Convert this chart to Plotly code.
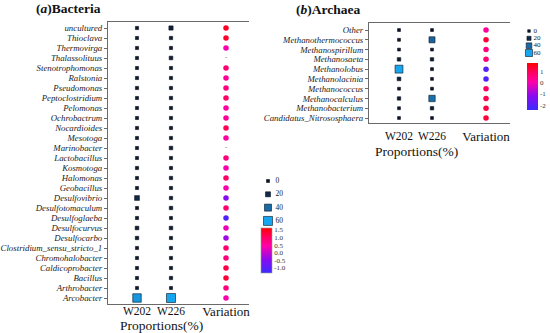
import plotly.graph_objects as go

W, H = 550, 333

# ---------------- data ----------------
bact_genera = ["uncultured", "Thioclava", "Thermovirga", "Thalassolituus", "Stenotrophomonas",
               "Ralstonia", "Pseudomonas", "Peptoclostridium", "Pelomonas", "Ochrobactrum",
               "Nocardioides", "Mesotoga", "Marinobacter", "Lactobacillus", "Kosmotoga",
               "Halomonas", "Geobacillus", "Desulfovibrio", "Desulfotomaculum", "Desulfoglaeba",
               "Desulfocurvus", "Desulfocarbo", "Clostridium_sensu_stricto_1", "Chromohalobacter",
               "Caldicoprobacter", "Bacillus", "Arthrobacter", "Arcobacter"]
bact_w202 = [1.5, 1.2, 1.0, 1.0, 0.8, 1.5, 1.5, 1.2, 1.2, 1.0, 1.0, 1.2, 1.0, 1.0, 1.8,
             1.0, 1.0, 18, 1.0, 1.5, 6, 4, 1.0, 1.0, 1.0, 1.2, 0.8, 55]
bact_w226 = [12, 3, 2, 6, 1.5, 2, 2, 2.5, 1.5, 1.5, 1.5, 1.5, 5, 1.5, 1.5,
             3, 2, 3, 4, 1.2, 5, 2, 2, 1.5, 1.5, 2.5, 1.2, 60]
bact_var = [1.4, 1.35, 0.4, None, 0.9, 0.6, 0.8, 1.0, 0.5, 0.6, 1.1, 0.5, None, 0.8, 0.4,
            1.0, 0.4, -0.5, 0.9, -1.1, 0.3, -0.3, 0.9, 0.8, 1.2, 1.3, 0.8, 0.4]

arch_genera = ["Other", "Methanothermococcus", "Methanospirillum", "Methanosaeta", "Methanolobus",
               "Methanolacinia", "Methanococcus", "Methanocalculus", "Methanobacterium",
               "Candidatus_Nitrososphaera"]
arch_w202 = [1.5, 1.5, 1.0, 8, 60, 10, 1.0, 7, 1.5, 1.0]
arch_w226 = [1.5, 38, 1.0, 7, 2, 1.0, 1.5, 42, 7, 1.5]
arch_var = [0.3, 1.3, 0.6, 0.7, -2.0, -2.1, 0.9, 1.1, 1.2, 1.3]

samples = ["W202", "W226"]
size_legend = [0, 20, 40, 60]
bact_cbar_ticks = [1.5, 1.0, 0.5, 0.0, -0.5, -1.0]
bact_cbar_text = ["1.5", "1.0", "0.5", "0.0", "-0.5", "-1.0"]
arch_cbar_ticks = [1, 0, -1, -2]
arch_cbar_text = ["1", "0", "-1", "-2"]

# ---------------- styling ----------------
SERIF = "Liberation Serif, Times New Roman, serif"
LINE = "#6a6a6a"
sq_scale = [[0, "#0d1626"], [0.2, "#10203a"], [0.4, "#143054"], [0.65, "#1a67a2"], [1, "#16a6f0"]]
var_scale = [[0, "#3b2bff"], [0.3, "#8a0af0"], [0.6, "#ff00a8"], [0.8, "#ff0060"], [1, "#ff0000"]]


def px_x(p):
    return p / W


def px_y(p):
    return 1 - p / H


fig = go.Figure()


def add_panel(genera, w202, w226, var, ax_p, ax_v, ay, size_k, size0, cmin, cmax,
              cb_x, cb_y0, cb_y1, cb_ticks, cb_text, cb_outline):
    xs, ys, vals = [], [], []
    for s, col in zip(samples, [w202, w226]):
        for g, v in zip(genera, col):
            xs.append(s)
            ys.append(g)
            vals.append(v)
    fig.add_trace(go.Scatter(
        x=xs, y=ys, mode="markers", xaxis=ax_p, yaxis=ay, showlegend=False, hoverinfo="skip",
        marker=dict(symbol="square", size=[size0 + v * size_k for v in vals], color=vals,
                    colorscale=sq_scale, cmin=0, cmax=60, opacity=1,
                    line=dict(width=0.6, color="#0a1220"))))
    gv = [g for g, v in zip(genera, var) if v is not None]
    vv = [v for v in var if v is not None]
    fig.add_trace(go.Scatter(
        x=["Variation"] * len(gv), y=gv, mode="markers", xaxis=ax_v, yaxis=ay,
        showlegend=False, hoverinfo="skip",
        marker=dict(symbol="circle", size=5.5, color=vv, colorscale=var_scale,
                    cmin=cmin, cmax=cmax, opacity=1, line=dict(width=0),
                    colorbar=dict(x=px_x(cb_x), xanchor="left", xpad=0, ypad=0,
                                  y=px_y((cb_y0 + cb_y1) / 2), yanchor="middle",
                                  len=cb_y1 - cb_y0, lenmode="pixels",
                                  thickness=11, thicknessmode="pixels",
                                  outlinewidth=cb_outline, outlinecolor="#9a9a9a",
                                  tickvals=cb_ticks, ticktext=cb_text, ticks="",
                                  tickfont=dict(family=SERIF, size=7, color="#333")))))
    gm = [g for g, v in zip(genera, var) if v is None]
    if gm:
        fig.add_trace(go.Scatter(
            x=["Variation"] * len(gm), y=gm, mode="text", text=["-"] * len(gm),
            xaxis=ax_v, yaxis=ay, showlegend=False, hoverinfo="skip",
            textfont=dict(family=SERIF, size=8, color="#999")))


add_panel(bact_genera, bact_w202, bact_w226, bact_var, "x", "x2", "y", 0.1, 3.0,
          -1.33, 1.63, 261, 228, 273, bact_cbar_ticks, bact_cbar_text, 0.6)
add_panel(arch_genera, arch_w202, arch_w226, arch_var, "x3", "x4", "y3", 0.085, 2.8,
          -2.45, 1.82, 527, 63, 110, arch_cbar_ticks, arch_cbar_text, 0)


# size legends on hidden axes
def add_size_legend(ax, ay, size_k, size0, fsize, tx):
    ys = list(range(len(size_legend)))
    fig.add_trace(go.Scatter(
        x=[0] * len(size_legend), y=ys, mode="markers",
        xaxis=ax, yaxis=ay, showlegend=False, hoverinfo="skip",
        marker=dict(symbol="square", size=[size0 + v * size_k for v in size_legend],
                    color=size_legend, colorscale=sq_scale, cmin=0, cmax=60, opacity=1,
                    line=dict(width=0.6, color="#0a1220"))))
    fig.add_trace(go.Scatter(
        x=[tx] * len(size_legend), y=ys, mode="text",
        text=[str(v) for v in size_legend], textposition="middle right",
        textfont=dict(family=SERIF, size=fsize, color="#222"),
        xaxis=ax, yaxis=ay, showlegend=False, hoverinfo="skip"))


add_size_legend("x5", "y5", 0.1, 3.0, 7.5, 7.5)
add_size_legend("x6", "y6", 0.075, 2.6, 7, 4.5)

tickfont_y = dict(family=SERIF, size=8.8, color="#222")
tickfont_w = dict(family=SERIF, size=11.5, color="#111")
tickfont_v = dict(family=SERIF, size=13, color="#111")
hidden = dict(visible=False, showgrid=False, zeroline=False, fixedrange=True, automargin=False)

bact_ticktext = ["<i>%s</i>" % g for g in bact_genera]
arch_ticktext = ["<i>%s</i>" % g for g in arch_genera]

nb = len(bact_genera)
na = len(arch_genera)

common_x = dict(type="category", showgrid=False, zeroline=False, showline=True,
                linecolor=LINE, linewidth=1, mirror=True, ticks="", tickangle=0,
                automargin=False, fixedrange=True)
common_y = dict(type="category", showgrid=False, zeroline=False, showline=True,
                linecolor=LINE, linewidth=1, ticks="outside", ticklen=3, tickcolor=LINE,
                tickfont=tickfont_y, automargin=False, fixedrange=True)

fig.update_layout(
    width=W, height=H, margin=dict(l=0, r=0, t=0, b=0, autoexpand=False),
    paper_bgcolor="white", plot_bgcolor="white", showlegend=False,
    font=dict(family=SERIF),
    # bacteria
    xaxis=dict(domain=[px_x(108), px_x(198)], anchor="y", categoryarray=samples,
               range=[-0.853, 1.794], tickfont=tickfont_w, ticklabelstandoff=-4, **common_x),
    xaxis2=dict(domain=[px_x(198), px_x(249)], anchor="y", categoryarray=["Variation"],
                range=[-0.549, 0.451], tickfont=tickfont_v, ticklabelstandoff=-5, **common_x),
    yaxis=dict(domain=[px_y(304), px_y(22)], anchor="x", categoryarray=bact_genera,
               tickvals=bact_genera, ticktext=bact_ticktext,
               range=[nb - 1 + 0.6, -0.6], **common_y),
    # archaea
    xaxis3=dict(domain=[px_x(369), px_x(459)], anchor="y3", categoryarray=samples,
                range=[-0.909, 1.818], tickfont=tickfont_w, ticklabelstandoff=2, **common_x),
    xaxis4=dict(domain=[px_x(459), px_x(510)], anchor="y3", categoryarray=["Variation"],
                range=[-0.53, 0.47], tickfont=tickfont_v, ticklabelstandoff=1, **common_x),
    yaxis3=dict(domain=[px_y(123), px_y(23)], anchor="x3", categoryarray=arch_genera,
                tickvals=arch_genera, ticktext=arch_ticktext,
                range=[na - 1 + 0.51, -0.72], **common_y),
    # legend axes
    xaxis5=dict(domain=[px_x(262), px_x(292)], anchor="y5", range=[-6, 24], **hidden),
    yaxis5=dict(domain=[px_y(228), px_y(175)], anchor="x5", range=[3.53, -0.45], **hidden),
    xaxis6=dict(domain=[px_x(523), px_x(548)], anchor="y6", range=[-6, 19], **hidden),
    yaxis6=dict(domain=[px_y(57), px_y(27)], anchor="x6", range=[3.55, -0.55], **hidden),
    annotations=[
        dict(text="<b>(<i>a</i>)Bacteria</b>", x=px_x(34), y=px_y(9), xref="paper",
             yref="paper", xanchor="left", yanchor="middle", showarrow=False,
             font=dict(family=SERIF, size=13.5, color="#111")),
        dict(text="<b>(<i>b</i>)Archaea</b>", x=px_x(294), y=px_y(10), xref="paper",
             yref="paper", xanchor="left", yanchor="middle", showarrow=False,
             font=dict(family=SERIF, size=13.5, color="#111")),
        dict(text="Proportions(%)", x=px_x(161), y=px_y(325), xref="paper", yref="paper",
             xanchor="center", yanchor="middle", showarrow=False,
             font=dict(family=SERIF, size=13.5, color="#111")),
        dict(text="Proportions(%)", x=px_x(416), y=px_y(151), xref="paper", yref="paper",
             xanchor="center", yanchor="middle", showarrow=False,
             font=dict(family=SERIF, size=13.5, color="#111")),
    ],
)

fig.write_html("out.html", config={"displayModeBar": False},
               post_script="document.body.style.margin='0';document.body.style.padding='0';")
